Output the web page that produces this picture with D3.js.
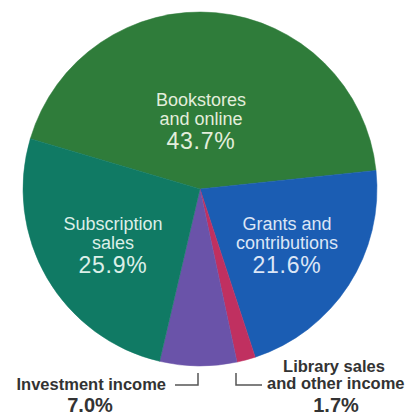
<!DOCTYPE html>
<html>
<head>
<meta charset="utf-8">
<script src="https://cdn.jsdelivr.net/npm/d3@7"></script>
<style>
  html, body { margin: 0; padding: 0; background: #ffffff; }
  svg { display: block; }
</style>
</head>
<body>
<svg id="chart" width="407" height="416"></svg>
<script>
// ---- data ----
const categories = ["Bookstores and online", "Grants and contributions", "Library sales and other income", "Investment income", "Subscription sales"];
const values = [43.7, 21.6, 1.7, 7.0, 25.9];
const valueLabels = ["43.7%", "21.6%", "1.7%", "7.0%", "25.9%"];
const colors = ["#2f7c3a", "#1b5db3", "#c03060", "#6a53a9", "#107a64"];

// ---- layout ----
const svg = d3.select("#chart");
const cx = 200, cy = 189, R = 177;
const startDeg = -73.5;

const pie = d3.pie()
  .sort(null)
  .value(d => d.value)
  .startAngle(startDeg * Math.PI / 180)
  .endAngle((startDeg + 360) * Math.PI / 180);

const data = categories.map((c, i) => ({ name: c, value: values[i], label: valueLabels[i], color: colors[i] }));
const arcs = pie(data);
const arc = d3.arc().innerRadius(0).outerRadius(R);

const g = svg.append("g").attr("transform", `translate(${cx},${cy})`);
g.selectAll("path").data(arcs).enter().append("path")
  .attr("d", arc)
  .attr("fill", d => d.data.color)
  .attr("stroke", d => d.data.color)
  .attr("stroke-width", 0.5);

const font = "'Liberation Sans', Arial, Helvetica, sans-serif";

// ---- inner labels ----
const inner = [
  { idx: 0, lines: ["Bookstores", "and online"], x: 201, y: 106, fill: "#e3eedc" },
  { idx: 4, lines: ["Subscription", "sales"], x: 113, y: 230, fill: "#dcefe8" },
  { idx: 1, lines: ["Grants and", "contributions"], x: 287, y: 230, fill: "#dce6f6" }
];
inner.forEach(l => {
  const t = svg.append("g");
  l.lines.forEach((s, k) => {
    t.append("text")
      .attr("x", l.x).attr("y", l.y + k * 19)
      .attr("text-anchor", "middle")
      .attr("font-family", font)
      .attr("font-size", 18)
      .attr("fill", l.fill)
      .text(s);
  });
  t.append("text")
    .attr("x", l.x).attr("y", l.y + 2 * 19 + 5)
    .attr("text-anchor", "middle")
    .attr("font-family", font)
    .attr("font-size", 23)
    .attr("letter-spacing", 0.8)
    .attr("fill", l.fill)
    .text(data[l.idx].label);
});

// ---- outer labels ----
const dark = "#333333";
svg.append("text")
  .attr("x", 166).attr("y", 390)
  .attr("text-anchor", "end")
  .attr("font-family", font).attr("font-weight", "bold")
  .attr("font-size", 16.5).attr("fill", dark)
  .text("Investment income");
svg.append("text")
  .attr("x", 90).attr("y", 412)
  .attr("text-anchor", "middle")
  .attr("font-family", font).attr("font-weight", "bold")
  .attr("font-size", 20).attr("fill", dark)
  .text(data[3].label);

svg.append("text")
  .attr("x", 334).attr("y", 372)
  .attr("text-anchor", "middle")
  .attr("font-family", font).attr("font-weight", "bold")
  .attr("font-size", 16.5).attr("fill", dark)
  .text("Library sales");
svg.append("text")
  .attr("x", 267).attr("y", 389)
  .attr("text-anchor", "start")
  .attr("font-family", font).attr("font-weight", "bold")
  .attr("font-size", 16.5).attr("fill", dark)
  .text("and other income");
svg.append("text")
  .attr("x", 336).attr("y", 412)
  .attr("text-anchor", "middle")
  .attr("font-family", font).attr("font-weight", "bold")
  .attr("font-size", 20).attr("fill", dark)
  .text(data[2].label);

// ---- leader brackets ----
const lineColor = "#555555";
svg.append("path")
  .attr("d", "M175,385H198V373")
  .attr("fill", "none").attr("stroke", lineColor).attr("stroke-width", 1.5);
svg.append("path")
  .attr("d", "M236,373V385H262")
  .attr("fill", "none").attr("stroke", lineColor).attr("stroke-width", 1.5);
</script>
</body>
</html>
